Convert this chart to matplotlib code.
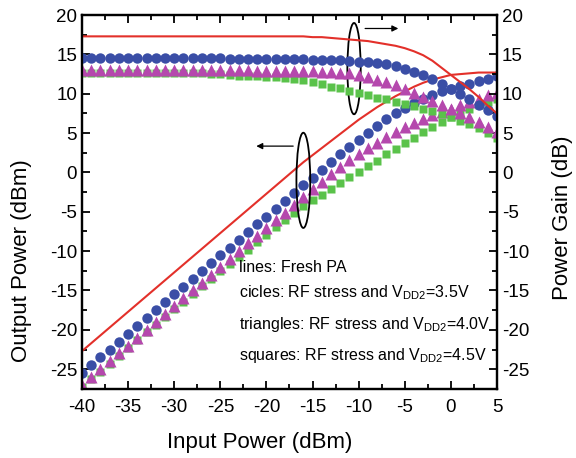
import numpy as np
import matplotlib
matplotlib.use('Agg')
import matplotlib.pyplot as plt
from matplotlib.patches import Ellipse
from matplotlib.ticker import MultipleLocator

plt.rcParams['font.family'] = ['Liberation Sans', 'DejaVu Sans']
plt.rcParams['mathtext.fontset'] = 'custom'
plt.rcParams['mathtext.rm'] = 'Liberation Sans'
plt.rcParams['mathtext.default'] = 'regular'
plt.rcParams['axes.unicode_minus'] = False

# input power sweep (dBm)
pin = np.arange(-40, 6, 1)

# fresh PA (lines)
gain_fresh = [17.3] * 25 + [17.2, 17.2, 17.1, 17.0, 16.9, 16.8, 16.7, 16.5, 16.3, 16.1,
                            15.8, 15.4, 14.9, 14.2, 13.3, 12.4, 11.5, 10.6, 9.6, 8.5, 7.5]
pout_fresh = [-22.7, -21.7, -20.7, -19.7, -18.7, -17.7, -16.7, -15.7, -14.7, -13.7,
              -12.7, -11.7, -10.7, -9.7, -8.7, -7.7, -6.7, -5.7, -4.7, -3.7,
              -2.7, -1.7, -0.7, 0.3, 1.3, 2.2, 3.1, 4.0, 4.9, 5.8,
              6.7, 7.5, 8.3, 9.0, 9.7, 10.3, 10.9, 11.4, 11.8, 12.1,
              12.4, 12.5, 12.6, 12.7, 12.7, 12.7]

# RF stress, VDD2 = 3.5V (circles)
gain_35 = [14.5] * 16 + [14.4] * 9 + [14.3] * 4 + [14.2, 14.1, 14.0, 13.9, 13.8, 13.5, 13.2,
                                                 12.8, 12.4, 11.9, 11.3, 10.6, 10.0, 9.3,
                                                 8.6, 7.9, 7.2]
pout_35 = [-25.5, -24.5, -23.5, -22.5, -21.5, -20.5, -19.5, -18.5, -17.5, -16.5,
           -15.5, -14.5, -13.5, -12.5, -11.5, -10.5, -9.6, -8.6, -7.6, -6.6,
           -5.6, -4.6, -3.6, -2.6, -1.6, -0.7, 0.3, 1.3, 2.3, 3.2,
           4.1, 5.0, 5.9, 6.8, 7.5, 8.2, 8.8, 9.4, 9.9, 10.3,
           10.6, 11.0, 11.3, 11.6, 11.9, 12.2]

# RF stress, VDD2 = 4.0V (triangles)
gain_40 = [13.0] * 19 + [12.9] * 7 + [12.8, 12.8, 12.7, 12.6, 12.4, 12.1, 11.8, 11.5, 11.1,
                                     10.6, 10.1, 9.6, 9.1, 8.6, 8.1, 7.6, 7.0, 6.4, 5.8, 5.1]
pout_40 = [-27.0, -26.0, -25.0, -24.0, -23.0, -22.0, -21.0, -20.0, -19.0, -18.0,
           -17.0, -16.0, -15.0, -14.0, -13.0, -12.0, -11.0, -10.0, -9.0, -8.1,
           -7.1, -6.1, -5.1, -4.1, -3.1, -2.1, -1.2, -0.2, 0.7, 1.6,
           2.4, 3.1, 3.8, 4.5, 5.2, 5.8, 6.3, 6.8, 7.3, 7.7,
           8.1, 8.6, 9.0, 9.4, 9.8, 10.1]

# RF stress, VDD2 = 4.5V (squares)
gain_45 = [12.7] * 8 + [12.6] * 6 + [12.5, 12.5, 12.4, 12.3, 12.2, 12.2, 12.1, 12.1, 12.0,
                                    11.9, 11.7, 11.5, 11.2, 10.9, 10.7, 10.4, 10.1, 9.8,
                                    9.5, 9.3, 9.0, 8.7, 8.4, 8.1, 7.8, 7.4, 7.1, 6.6,
                                    6.1, 5.6, 5.0, 4.4]
pout_45 = [-27.3, -26.3, -25.3, -24.3, -23.3, -22.3, -21.3, -20.3, -19.4, -18.4,
           -17.4, -16.4, -15.4, -14.4, -13.5, -12.5, -11.6, -10.7, -9.8, -8.8,
           -7.9, -6.9, -6.0, -5.1, -4.3, -3.5, -2.8, -2.1, -1.3, -0.6,
           0.1, 0.8, 1.5, 2.3, 3.0, 3.7, 4.4, 5.1, 5.8, 6.4,
           7.1, 7.6, 8.1, 8.6, 9.0, 9.4]

notes = ['lines: Fresh PA',
         r'cicles: RF stress and V$_{DD2}$=3.5V',
         r'triangles: RF stress and V$_{DD2}$=4.0V',
         r'squares: RF stress and V$_{DD2}$=4.5V']
note_y = [-12.1, -15.3, -19.3, -23.2]

red = '#e3302a'
blue = '#3a4ea6'
mag = '#b548ad'
green = '#5ac24a'

fig = plt.figure(figsize=(5.76, 4.58), dpi=100)
ax = fig.add_axes([0.1424, 0.151, 0.7204, 0.816])
ax2 = ax.twinx()

for a, yy_list in ((ax, (pout_45, pout_40, pout_35, pout_fresh)),
                   (ax2, (gain_45, gain_40, gain_35, gain_fresh))):
    a.plot(pin, yy_list[0], 's', color=green, ms=6.4, mec='none')
    a.plot(pin, yy_list[1], '^', color=mag, ms=8.2, mec='none')
    a.plot(pin, yy_list[2], 'o', color=blue, ms=7.5, mec='none')
    a.plot(pin, yy_list[3], '-', color=red, lw=1.5)

for a in (ax, ax2):
    a.set_xlim(-40, 5)
    a.set_ylim(-27.5, 20)
    a.yaxis.set_major_locator(MultipleLocator(5))
    a.yaxis.set_minor_locator(MultipleLocator(2.5))
    for s in a.spines.values():
        s.set_linewidth(1.6)

ax.xaxis.set_major_locator(MultipleLocator(5))
ax.xaxis.set_minor_locator(MultipleLocator(2.5))
ax.tick_params(which='both', direction='in', top=True, right=False, labelsize=13.5, width=1.3)
ax.tick_params(which='major', length=6)
ax.tick_params(which='minor', length=3.5)
ax.tick_params(axis='x', pad=7)
ax2.tick_params(which='both', direction='in', labelsize=13.5, width=1.3)
ax2.tick_params(which='major', length=6)
ax2.tick_params(which='minor', length=3.5)

ax.set_xlabel('Input Power (dBm)', fontsize=16)
ax.set_ylabel('Output Power (dBm)', fontsize=16)
ax2.set_ylabel('Power Gain (dB)', fontsize=16)
ax.xaxis.set_label_coords(0.427, -0.115)
ax.yaxis.set_label_coords(-0.12, 0.342)
ax2.yaxis.set_label_coords(1.133, 0.457)

# ellipses and arrows
ax.add_patch(Ellipse((-10.5, 13.2), 1.45, 11.6, fill=False, ec='black', lw=1.3, zorder=5))
ax.annotate('', xy=(-5.4, 18.3), xytext=(-9.6, 18.3),
            arrowprops=dict(arrowstyle='-|>', color='black', lw=0.9, mutation_scale=9))
ax.add_patch(Ellipse((-16.0, -1.0), 1.5, 12.1, fill=False, ec='black', lw=1.3, zorder=5))
ax.annotate('', xy=(-21.4, 3.35), xytext=(-16.8, 3.35),
            arrowprops=dict(arrowstyle='-|>', color='black', lw=0.9, mutation_scale=9))

for t, yy in zip(notes, note_y):
    ax.text(-23.0, yy, t, fontsize=11.5, va='center', ha='left')

fig.savefig('out.png', dpi=100)
